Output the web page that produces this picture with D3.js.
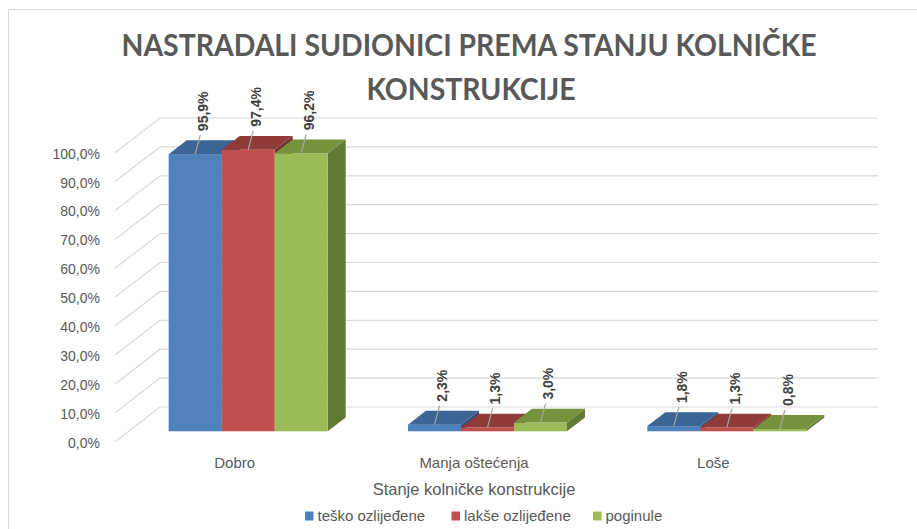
<!DOCTYPE html>
<html><head><meta charset="utf-8">
<script src="https://cdn.jsdelivr.net/npm/d3@7"></script>
<style>body{margin:0;background:#fff}svg{display:block}</style>
</head><body>
<svg id="c" width="917" height="529"></svg>
<script>
const categories = ["Dobro", "Manja oštećenja", "Loše"];
const seriesNames = ["teško ozlijeđene", "lakše ozlijeđene", "poginule"];
const teskoValues = [95.9, 2.3, 1.8];
const laksValues = [97.4, 1.3, 1.3];
const poginuleValues = [96.2, 3.0, 0.8];
const yTicks = [0, 10, 20, 30, 40, 50, 60, 70, 80, 90, 100];
const titleLines = ["NASTRADALI SUDIONICI PREMA STANJU KOLNIČKE", "KONSTRUKCIJE"];
const xAxisTitle = "Stanje kolničke konstrukcije";

const seriesValues = [teskoValues, laksValues, poginuleValues];
const frontCol = ["#4F81BD", "#C0504D", "#9BBB59"];
const topCol = ["#3C6494", "#8E3B39", "#76923C"];
const sideCol = ["#30507A", "#75302E", "#637A34"];

const svg = d3.select("#c");
const loc = d3.formatLocale({decimal: ",", thousands: ".", grouping: [3], currency: ["", ""]});
const fmt = v => loc.format(".1f")(v) + "%";

// geometry
const floorFrontY = 441.7, depthX = 45, depthY = 34.7, t0 = 0.3, t1 = 0.7;
const x0 = d3.scaleBand().domain(categories).range([115, 833]).paddingInner(0.3356).paddingOuter(0.1678);
const x1 = d3.scaleBand().domain(seriesNames).range([0, x0.bandwidth()]);
const y = d3.scaleLinear().domain([0, 100]).range([0, 289]);
const PY = (v, t) => floorFrontY - y(v) - t * depthY;
const PX = (x, t) => x + t * depthX;

// border
svg.append("path").attr("d", "M8.5,529 V9.5 H917").attr("fill", "none").attr("stroke", "#d9d9d9").attr("stroke-width", 1);

// gridlines
const grid = svg.append("g").attr("stroke", "#d9d9d9").attr("stroke-width", 1.2).attr("fill", "none");
const [r0, r1] = x0.range();
yTicks.forEach(v => {
  grid.append("path").attr("d", `M${r0},${PY(v,0)} L${PX(r0,1)},${PY(v,1)} L${PX(r1,1)},${PY(v,1)}`);
});

// y tick labels
svg.append("g").selectAll("text").data(yTicks).join("text")
  .attr("x", 100).attr("y", v => PY(v, 0) + 1).attr("dy", "0.35em")
  .attr("text-anchor", "end").attr("font-family", "Liberation Sans, Arial, sans-serif")
  .attr("font-size", 14).attr("fill", "#595959").text(v => fmt(v));

// bars
const bars = svg.append("g");
const dx = (t1 - t0) * depthX, dy = (t1 - t0) * depthY;
const labels = [];
categories.forEach((cat, ci) => {
  seriesNames.forEach((s, si) => {
    const v = seriesValues[si][ci];
    const xl = PX(x0(cat) + x1(s), t0), w = x1.bandwidth();
    const yt = PY(v, t0), yb = PY(0, t0);
    bars.append("path").attr("fill", sideCol[si])
      .attr("d", `M${xl+w},${yt} L${xl+w+dx},${yt-dy} L${xl+w+dx},${yb-dy} L${xl+w},${yb}Z`);
    bars.append("rect").attr("x", xl).attr("y", yt).attr("width", w).attr("height", yb - yt).attr("fill", frontCol[si]);
    bars.append("path").attr("fill", topCol[si])
      .attr("d", `M${xl},${yt} L${xl+w},${yt} L${xl+w+dx},${yt-dy} L${xl+dx},${yt-dy}Z`);
    labels.push({v, cx: xl + w / 2, yt});
  });
});

// data labels with leader lines
const lg = svg.append("g");
labels.forEach(d => {
  lg.append("line").attr("x1", d.cx).attr("y1", d.yt).attr("x2", d.cx + 5).attr("y2", d.yt - 19)
    .attr("stroke", "#a6a6a6").attr("stroke-width", 1.2);
  lg.append("text").attr("transform", `translate(${d.cx + 8},${d.yt - 23}) rotate(-90)`)
    .attr("dy", "0.35em").attr("text-anchor", "start")
    .attr("font-family", "Liberation Sans, Arial, sans-serif").attr("font-weight", "bold")
    .attr("font-size", 14).attr("fill", "#404040").text(fmt(d.v));
});

// category labels
svg.append("g").selectAll("text").data(categories).join("text")
  .attr("x", c => x0(c) + x0.bandwidth() / 2).attr("y", 468)
  .attr("text-anchor", "middle").attr("font-family", "Liberation Sans, Arial, sans-serif")
  .attr("font-size", 15).attr("fill", "#595959").text(c => c);

// axis title
svg.append("text").attr("x", 474).attr("y", 495).attr("text-anchor", "middle")
  .attr("font-family", "Liberation Sans, Arial, sans-serif").attr("font-size", 16.5)
  .attr("fill", "#595959").text(xAxisTitle);

// title
const titleFont = "Lato, Liberation Sans, Arial, sans-serif";
const t1el = svg.append("text").attr("x", 469).attr("y", 56).attr("text-anchor", "middle")
  .attr("font-family", titleFont).attr("font-weight", "bold")
  .attr("font-size", 29.5).attr("fill", "#595959").text(titleLines[0]);
const nat = t1el.node().getComputedTextLength();
const k = 695 / nat;
t1el.attr("textLength", 695).attr("lengthAdjust", "spacingAndGlyphs");
const t2el = svg.append("text").attr("x", 471).attr("y", 100).attr("text-anchor", "middle")
  .attr("font-family", titleFont).attr("font-weight", "bold")
  .attr("font-size", 29.5).attr("fill", "#595959").text(titleLines[1]);
t2el.attr("textLength", t2el.node().getComputedTextLength() * k).attr("lengthAdjust", "spacingAndGlyphs");

// legend
const legX = [305, 451.5, 593];
const leg = svg.append("g");
seriesNames.forEach((s, i) => {
  leg.append("rect").attr("x", legX[i]).attr("y", 511.5).attr("width", 8.5).attr("height", 9).attr("fill", frontCol[i]);
  leg.append("text").attr("x", legX[i] + 12.5).attr("y", 521).attr("font-family", "Liberation Sans, Arial, sans-serif")
    .attr("font-size", 15).attr("fill", "#595959").text(s);
});
</script>
</body></html>
